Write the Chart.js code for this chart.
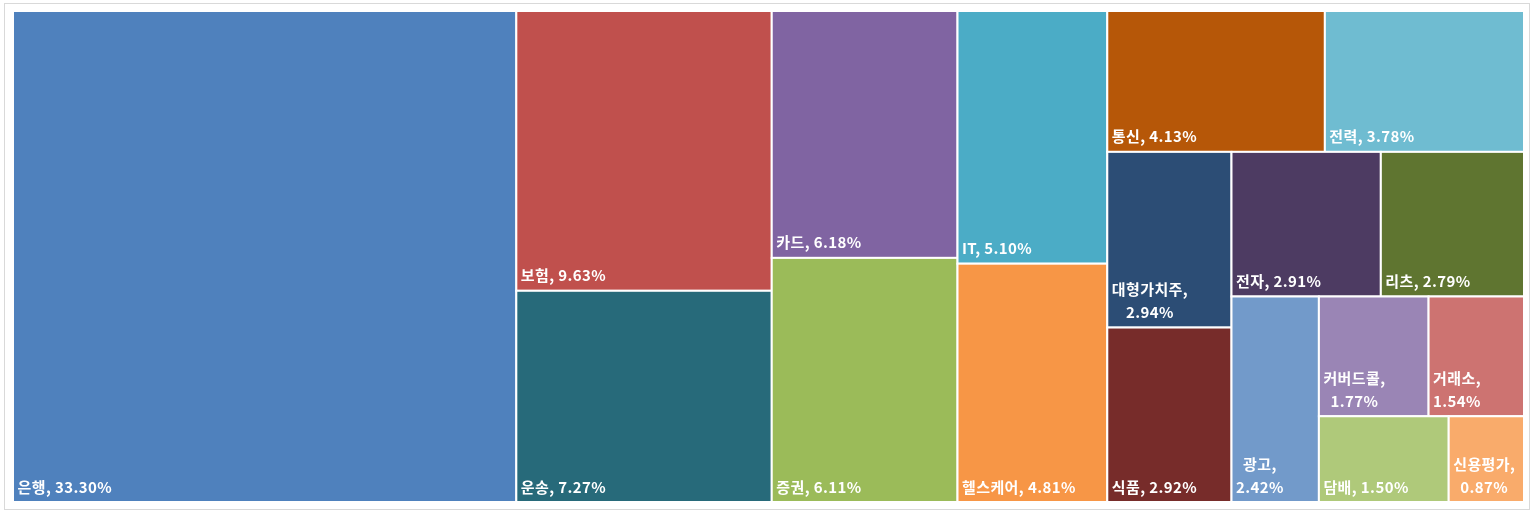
<!DOCTYPE html>
<html>
<head>
<meta charset="utf-8">
<script src="https://cdn.jsdelivr.net/npm/chart.js@4.4.1/dist/chart.umd.min.js"></script>
<style>
html,body{margin:0;padding:0;background:#ffffff;}
canvas{display:block;}
</style>
</head>
<body>
<canvas id="c" width="1532" height="511"></canvas>
<script>
// ---- data ----
const categories = ['은행','보험','운송','카드','증권','IT','헬스케어','통신','전력','대형가치주','식품','전자','리츠','광고','커버드콜','거래소','담배','신용평가'];
const shares = [33.30,9.63,7.27,6.18,6.11,5.10,4.81,4.13,3.78,2.94,2.92,2.91,2.79,2.42,1.77,1.54,1.50,0.87];
const colors = ['#4F81BD','#C0504D','#276A7A','#8064A2','#9BBB59','#4BACC6','#F79646','#B65708','#6FBCD1','#2C4D75','#772C2A','#4D3B62','#5F7530','#729ACA','#9A85B5','#CD7371','#AFC97A','#F9AB6B'];

// ---- squarified-style strip layout (in pixel units of the plot area) ----
function sum(a){return a.reduce((s,v)=>s+v,0);}
function worst(group, side, k){
  const t = sum(group)*k/side;
  let w = 0;
  group.forEach(v=>{const len=v*k/t; w=Math.max(w,len/t,t/len);});
  return w;
}
function layout(vals, W, H){
  const k = W*H/sum(vals);
  let x=0,y=0,w=W,h=H,i=0;
  const rects=[];
  while(i<vals.length){
    const horizontal = w <= h*1.02;
    const side = horizontal ? w : h;
    let n=1, best=worst(vals.slice(i,i+1),side,k);
    while(i+n<vals.length){
      const cand=worst(vals.slice(i,i+n+1),side,k);
      if(cand < best*0.6){best=cand;n++;} else break;
    }
    const grp=vals.slice(i,i+n);
    const thick=sum(grp)*k/side;
    let off=0;
    grp.forEach(v=>{
      const len=v*k/thick;
      if(horizontal) rects.push({x:x+off,y:y,w:len,h:thick});
      else rects.push({x:x,y:y+off,w:thick,h:len});
      off+=len;
    });
    if(horizontal){y+=thick;h-=thick;} else {x+=thick;w-=thick;}
    i+=n;
  }
  return rects.map(r=>({x0:r.x/W*100,x1:(r.x+r.w)/W*100,y0:r.y/H*100,y1:(r.y+r.h)/H*100}));
}

const FONT = '700 15px "Noto Sans CJK KR", "Noto Sans", sans-serif';

const treemapPlugin = {
  id:'treemapCells',
  beforeDraw(chart){
    const ctx=chart.ctx;
    ctx.save();
    ctx.strokeStyle='#d9d9d9';
    ctx.lineWidth=1;
    ctx.strokeRect(4.5,3.5,1525,506);
    ctx.restore();
  },
  afterDatasetsDraw(chart){
    const ctx=chart.ctx, xs=chart.scales.x, ys=chart.scales.y, a=chart.chartArea;
    const cells=layout(shares, a.right-a.left, a.bottom-a.top);
    ctx.save();
    cells.forEach((c,i)=>{
      const px0=xs.getPixelForValue(c.x0), px1=xs.getPixelForValue(c.x1);
      const py0=ys.getPixelForValue(c.y0), py1=ys.getPixelForValue(c.y1);
      ctx.fillStyle=colors[i];
      ctx.fillRect(px0,py0,px1-px0,py1-py0);
      ctx.strokeStyle='#ffffff';
      ctx.lineWidth=2;
      ctx.strokeRect(px0,py0,px1-px0,py1-py0);
    });
    ctx.font=FONT;
    try{ctx.letterSpacing='0.4px';}catch(e){}
    ctx.fillStyle='#ffffff';
    ctx.textBaseline='alphabetic';
    ctx.textAlign='left';
    cells.forEach((c,i)=>{
      const px0=xs.getPixelForValue(c.x0), px1=xs.getPixelForValue(c.x1);
      const py1=ys.getPixelForValue(c.y1);
      const val=shares[i].toFixed(2)+'%';
      const one=categories[i]+', '+val;
      const cw=px1-px0;
      let lines = ctx.measureText(one).width > cw-12 ? [categories[i]+',', val] : [one];
      const widths=lines.map(l=>ctx.measureText(l).width);
      const bw=Math.max(...widths);
      let base=py1-9.5;
      for(let j=lines.length-1;j>=0;j--){
        ctx.fillText(lines[j],px0+4.5+(bw-widths[j])/2,base);
        base-=23;
      }
    });
    ctx.restore();
  }
};

new Chart(document.getElementById('c'),{
  type:'scatter',
  data:{datasets:[{label:'비중',data:categories.map((c,i)=>({x:0,y:0,v:shares[i]})),pointRadius:0,pointHoverRadius:0}]},
  options:{
    responsive:false,
    animation:false,
    devicePixelRatio:1,
    layout:{padding:{left:13,top:11,right:8,bottom:9}},
    scales:{
      x:{type:'linear',min:0,max:100,display:false},
      y:{type:'linear',min:0,max:100,reverse:true,display:false}
    },
    plugins:{legend:{display:false},tooltip:{enabled:false}}
  },
  plugins:[treemapPlugin]
});
</script>
</body>
</html>
